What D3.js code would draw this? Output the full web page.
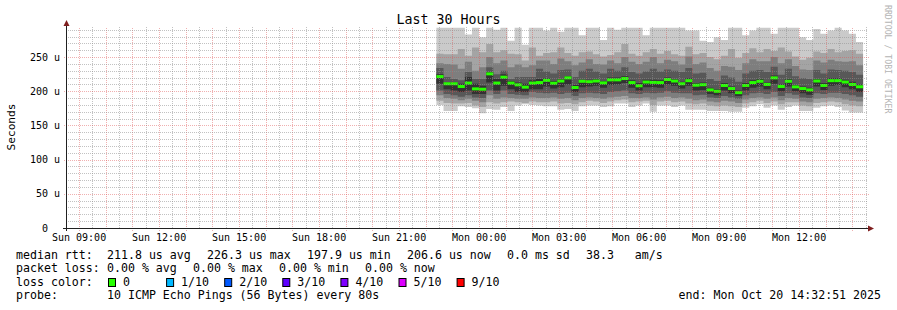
<!DOCTYPE html>
<html>
<head>
<meta charset="utf-8">
<script src="https://cdn.jsdelivr.net/npm/d3@7/dist/d3.min.js"></script>
<style>
  body { margin: 0; background: #fff; }
  text { font-family: "DejaVu Sans Mono", monospace; white-space: pre; }
</style>
</head>
<body>
<div id="chart"></div>
<script>
// time window (UTC so the labels do not depend on the machine's zone)
var endTime = Date.UTC(2025, 9, 20, 14, 32, 51);
var startTime = endTime - 30 * 3600 * 1000;
var firstStep = Date.UTC(2025, 9, 19, 22, 24, 0);
var stepMs = 960 * 1000;   // 12 x 80s

// median rtt per step (us)
var median = [221.5, 211, 211, 207, 212, 203.5, 203, 225.5, 212, 220.6,
  212, 209.4, 206, 212, 212.7, 216, 211.8, 215, 219.6, 205.5,
  214.6, 214, 215, 212.3, 216.7, 216.7, 218.6, 212.7, 208, 213.5,
  213, 212.7, 217.2, 215, 211, 215.5, 208.9, 209.6, 202, 200,
  208.5, 204, 198, 208.5, 212.7, 214.6, 210, 219.6, 207, 214.6,
  206.4, 204, 202, 215, 208.5, 215.5, 215.5, 213.5, 210, 206.6];

// the 10 sorted ping times of every step (us)
var pings = [
  [180, 186, 194, 201, 211, 225, 234, 241, 255, 293],
  [171, 183, 190, 196, 203, 213, 221, 240, 254, 293],
  [171, 182, 189, 194, 201, 213, 218, 239, 254, 293],
  [178, 182, 187, 192, 199, 211, 216, 233, 262, 293],
  [177, 183, 189, 194, 201, 221, 228, 243, 252, 283],
  [175, 179, 186, 191, 196, 211, 218, 230, 264, 293],
  [168, 177, 184, 190, 196, 208, 218, 235, 257, 279],
  [174, 184, 194, 201, 213, 228, 235, 250, 269, 293],
  [173, 182, 189, 196, 201, 218, 225, 241, 257, 290],
  [177, 184, 191, 201, 208, 225, 230, 245, 260, 293],
  [171, 185, 190, 196, 203, 215, 218, 235, 255, 274],
  [179, 184, 189, 195, 199, 213, 221, 239, 254, 293],
  [181, 183, 189, 194, 199, 211, 221, 235, 245, 268],
  [180, 185, 191, 199, 203, 216, 221, 238, 264, 293],
  [179, 184, 190, 198, 203, 218, 233, 245, 252, 293],
  [178, 184, 190, 197, 207, 219, 229, 245, 256, 289],
  [178, 185, 191, 198, 204, 215, 226, 240, 257, 293],
  [173, 182, 189, 196, 206, 218, 231, 248, 264, 287],
  [174, 183, 190, 198, 210, 222, 232, 244, 256, 293],
  [171, 181, 187, 193, 199, 209, 221, 238, 252, 293],
  [178, 184, 190, 197, 206, 217, 230, 242, 257, 282],
  [179, 186, 191, 198, 207, 217, 233, 247, 258, 293],
  [179, 185, 190, 197, 208, 218, 229, 240, 254, 293],
  [177, 183, 189, 196, 205, 215, 226, 239, 251, 275],
  [178, 185, 191, 199, 209, 220, 233, 245, 253, 293],
  [182, 187, 192, 200, 210, 220, 230, 241, 257, 290],
  [182, 188, 193, 201, 212, 222, 235, 250, 269, 293],
  [177, 184, 190, 197, 205, 216, 228, 243, 255, 293],
  [179, 185, 190, 196, 201, 212, 226, 240, 252, 293],
  [182, 186, 191, 198, 206, 217, 229, 243, 257, 282],
  [170, 180, 188, 197, 206, 217, 233, 250, 262, 293],
  [179, 185, 191, 198, 205, 216, 229, 241, 255, 293],
  [179, 186, 192, 200, 210, 220, 232, 246, 259, 293],
  [177, 184, 190, 198, 208, 218, 230, 244, 254, 293],
  [179, 185, 191, 197, 204, 214, 228, 239, 252, 293],
  [173, 182, 189, 197, 208, 219, 234, 251, 265, 289],
  [173, 181, 187, 194, 201, 212, 226, 240, 254, 289],
  [173, 182, 188, 195, 202, 213, 227, 242, 256, 274],
  [171, 179, 185, 191, 196, 205, 218, 234, 250, 272],
  [171, 178, 184, 190, 194, 203, 215, 230, 247, 279],
  [171, 179, 186, 193, 201, 212, 223, 237, 252, 275],
  [170, 178, 185, 191, 197, 207, 220, 236, 262, 293],
  [170, 177, 183, 189, 193, 201, 214, 231, 249, 293],
  [176, 182, 188, 194, 201, 212, 226, 241, 256, 282],
  [178, 184, 190, 197, 205, 216, 230, 247, 263, 289],
  [181, 186, 191, 198, 207, 218, 231, 244, 257, 293],
  [176, 183, 189, 196, 203, 213, 228, 244, 262, 293],
  [179, 185, 191, 199, 211, 223, 236, 250, 259, 284],
  [173, 181, 187, 193, 200, 210, 224, 241, 264, 293],
  [177, 184, 190, 197, 207, 218, 233, 247, 258, 293],
  [179, 184, 189, 195, 200, 209, 222, 237, 251, 293],
  [171, 179, 185, 191, 197, 207, 219, 232, 246, 279],
  [171, 178, 184, 190, 195, 205, 218, 231, 249, 275],
  [176, 183, 189, 197, 207, 218, 231, 245, 258, 291],
  [178, 184, 190, 196, 202, 212, 226, 242, 256, 284],
  [179, 185, 191, 198, 208, 219, 232, 246, 262, 289],
  [177, 184, 190, 198, 209, 219, 231, 244, 257, 293],
  [172, 181, 188, 196, 206, 217, 230, 243, 259, 289],
  [169, 179, 186, 194, 203, 214, 228, 244, 260, 284],
  [169, 178, 185, 192, 199, 210, 224, 238, 255, 272]
];

var yTicks = [0, 50, 100, 150, 200, 250];
var yTickLabels = ["  0  ", " 50 u", "100 u", "150 u", "200 u", "250 u"];
var smokeColors = ["#cacaca", "#a4a4a4", "#7e7e7e", "#585858", "#323232"];
var lossColors = ["#26ff00", "#00b8ff", "#0059ff", "#5e00ff", "#7e00ff", "#dd00ff", "#ff0000"];
var lossLabels = ["0", "1/10", "2/10", "3/10", "4/10", "5/10", "9/10"];

var rttStats = ["211.8 us avg", "226.3 us max", "197.9 us min", "206.6 us now", "0.0 ms sd", "38.3   am/s"];
var lossStats = ["0.00 % avg", "0.00 % max", "0.00 % min", "0.00 % now"];
var probeText = "10 ICMP Echo Pings (56 Bytes) every 80s";
var endText = "end: Mon Oct 20 14:32:51 2025";

var W = 897, H = 310;
var svg = d3.select("#chart").append("svg")
  .attr("width", W).attr("height", H)
  .style("display", "block");

var x = d3.scaleUtc().domain([startTime, endTime]).range([67, 867]);
var y = d3.scaleLinear().domain([0, 294]).range([228, 27]);

var steps = median.map(function (m, i) {
  return { t: firstStep + i * stepMs, med: m, p: pings[i] };
});
// extra point so the last step keeps its width with a step curve
var stepsArea = steps.concat([{ t: firstStep + steps.length * stepMs, med: median[median.length - 1], p: pings[pings.length - 1] }]);

// ======== smoke ========
var smoke = svg.append("g");
smokeColors.forEach(function (c, b) {
  var area = d3.area()
    .curve(d3.curveStepAfter)
    .x(function (d) { return x(d.t); })
    .y0(function (d) { return y(d.p[b]); })
    .y1(function (d) { return y(d.p[9 - b]); });
  smoke.append("path").datum(stepsArea).attr("d", area).attr("fill", c);
});

// median, coloured by loss (all 0 here)
svg.append("g").selectAll("rect")
  .data(steps).enter().append("rect")
  .attr("x", function (d) { return x(d.t); })
  .attr("width", function (d) { return x(d.t + stepMs) - x(d.t); })
  .attr("y", function (d) { return y(d.med) - 1.5; })
  .attr("height", 3)
  .attr("fill", lossColors[0]);

// ======== grid ========
var grid = svg.append("g").attr("fill", "none").attr("shape-rendering", "crispEdges");
var minorCol = "rgba(143,143,143,0.55)", majorCol = "rgba(222,80,80,0.45)";
var px = function (v) { return Math.round(v) + 0.5; };

// half hour lines, red on the hour
var half = 1800 * 1000;
d3.range(Math.ceil(startTime / half), Math.floor(endTime / half) + 1).forEach(function (k) {
  var t = k * half, major = k % 2 === 0;
  grid.append("line")
    .attr("x1", px(x(t))).attr("x2", px(x(t)))
    .attr("y1", major ? 231 : 228).attr("y2", 27)
    .attr("stroke", major ? majorCol : minorCol)
    .attr("stroke-dasharray", "1,1");
});

d3.range(10, 291, 10).forEach(function (v) {
  var major = v % 50 === 0;
  grid.append("line")
    .attr("x1", major ? 64 : 66).attr("x2", major ? 870 : 868)
    .attr("y1", px(y(v))).attr("y2", px(y(v)))
    .attr("stroke", major ? majorCol : minorCol)
    .attr("stroke-dasharray", "1,1");
});

// ======== axes ========
var axisCol = "#202020", arrowCol = "#7f1f1f";
svg.append("line").attr("x1", 63).attr("x2", 869).attr("y1", 228.5).attr("y2", 228.5)
  .attr("stroke", axisCol);
svg.append("line").attr("x1", 66.5).attr("x2", 66.5).attr("y1", 231).attr("y2", 24)
  .attr("stroke", axisCol);
svg.append("path").attr("d", "M868,225.5L874,228.5L868,231.5Z").attr("fill", arrowCol);
svg.append("path").attr("d", "M63.5,26L66.5,20L69.5,26Z").attr("fill", arrowCol);

// y labels
svg.append("g").selectAll("text")
  .data(yTicks).enter().append("text")
  .attr("x", 30)
  .attr("y", function (d) { return y(d) + 3.5; })
  .attr("font-size", "10px")
  .text(function (d, i) { return yTickLabels[i]; });

// x labels every 3 hours
var fmt = d3.utcFormat("%a %H:%M");
svg.append("g").selectAll("text")
  .data(d3.utcHour.every(3).range(new Date(startTime), new Date(endTime))).enter().append("text")
  .attr("x", function (d) { return x(d); })
  .attr("y", 241)
  .attr("text-anchor", "middle")
  .attr("font-size", "10px")
  .text(function (d) { return fmt(d); });

// title, y title, watermark
svg.append("text").attr("x", 448.5).attr("y", 24).attr("text-anchor", "middle")
  .attr("font-size", "13.3px").text("Last 30 Hours");
svg.append("text").attr("transform", "translate(15,127) rotate(-90)")
  .attr("text-anchor", "middle").attr("font-size", "11.2px").text("Seconds");
svg.append("text").attr("transform", "translate(885,5) rotate(90)")
  .attr("font-size", "8.2px").attr("fill", "#b4b4b4").text("RRDTOOL / TOBI OETIKER");

// ======== legend ========
var leg = svg.append("g").attr("font-size", "11.6px");
var rowY = [258.5, 272, 285.5, 299];

leg.append("text").attr("x", 16).attr("y", rowY[0]).text("median rtt:");
[107, 207, 307, 407, 507, 586].forEach(function (lx, i) {
  leg.append("text").attr("x", lx).attr("y", rowY[0]).text(rttStats[i]);
});

leg.append("text").attr("x", 16).attr("y", rowY[1]).text("packet loss:");
[107, 193, 279, 365].forEach(function (lx, i) {
  leg.append("text").attr("x", lx).attr("y", rowY[1]).text(lossStats[i]);
});

leg.append("text").attr("x", 16).attr("y", rowY[2]).text("loss color:");
lossColors.forEach(function (c, i) {
  var bx = 108.5 + i * 58.1;
  leg.append("rect").attr("x", bx).attr("y", 278.5).attr("width", 7).attr("height", 8)
    .attr("fill", c).attr("stroke", "#000");
  leg.append("text").attr("x", bx + 14.5).attr("y", rowY[2]).text(lossLabels[i]);
});

leg.append("text").attr("x", 16).attr("y", rowY[3]).text("probe:");
leg.append("text").attr("x", 107).attr("y", rowY[3]).text(probeText);
leg.append("text").attr("x", 881).attr("y", rowY[3]).attr("text-anchor", "end").text(endText);
</script>
</body>
</html>
